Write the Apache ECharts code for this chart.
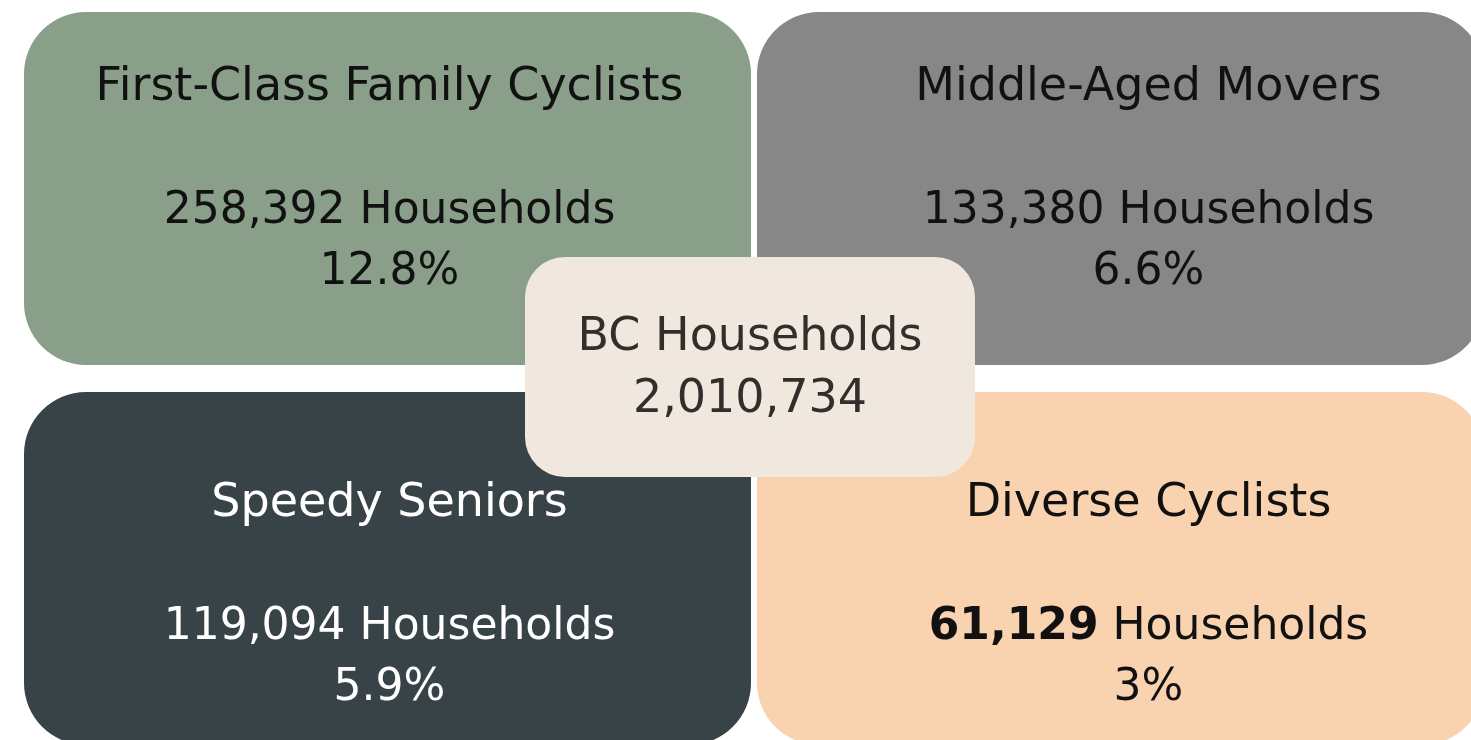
<!DOCTYPE html>
<html>
<head>
<meta charset="utf-8">
<title>BC Households segments</title>
<script src="https://cdn.jsdelivr.net/npm/echarts@6/dist/echarts.min.js"></script>
<style>
  html, body { margin: 0; padding: 0; background: #ffffff; }
  #main { width: 1471px; height: 740px; }
</style>
</head>
<body>
<div id="main"></div>
<script>
// segment tiles, read left-to-right, top-to-bottom
const segments = ["First-Class Family Cyclists", "Middle-Aged Movers", "Speedy Seniors", "Diverse Cyclists"];
const households = [258392, 133380, 119094, 61129];
const shares = [12.8, 6.6, 5.9, 3];
const tileCol = [0, 1, 0, 1];
const tileRow = [0, 0, 1, 1];

const totalLabel = "BC Households";
const totalHouseholds = 2010734;

const tileColors = ["#8a9f89", "#878787", "#374347", "#f9d2af"];
const tileText = ["#111111", "#111111", "#ffffff", "#111111"];
const FONT = "'DejaVu Sans', sans-serif";
const FS = 46;     // titles
const FS_NUM = 44; // number lines (DejaVu digits run wide)

// one grid cell is 733 x 380 px; the right column and bottom row run off the page
const CELL_W = 733, CELL_H = 380;
const GRID_LEFT = 24, GRID_TOP = 12;

const fmt = (n) => n.toLocaleString("en-US");

var chart = echarts.init(document.getElementById("main"));

const tileData = segments.map((name, i) => ({
  name: name,
  value: [tileCol[i], tileRow[i], households[i], shares[i]],
}));

function renderTile(params, api) {
  const i = params.dataIndex;
  const col = api.value(0);
  const row = api.value(1);
  const p = api.coord([col, row]);
  const cell = api.size([1, 1]);
  const w = cell[0] - 6;
  const h = cell[1] - 27;
  // text sits a little right in the right column, lower in the bottom row
  const cx = p[0] + w / 2 + (col === 1 ? 28 : 2);
  const top = p[1] + (row === 1 ? 112 : 76);
  const fill = tileText[i];
  const numWeight = i === 3 ? "bold" : "normal";
  return {
    type: "group",
    children: [
      {
        type: "rect",
        shape: { x: p[0], y: p[1], width: w, height: h, r: 62 },
        style: { fill: tileColors[i] },
      },
      {
        type: "text",
        style: {
          text: segments[i], x: cx, y: top, fill: fill,
          fontSize: FS, fontFamily: FONT, align: "center", verticalAlign: "middle",
        },
      },
      {
        type: "text",
        style: {
          text: "{n|" + fmt(api.value(2)) + "} Households", x: cx, y: top + 124, fill: fill,
          fontSize: FS_NUM, fontFamily: FONT, align: "center", verticalAlign: "middle",
          rich: { n: { fontSize: FS_NUM, fontFamily: FONT, fontWeight: numWeight, fill: fill } },
        },
      },
      {
        type: "text",
        style: {
          text: api.value(3) + "%", x: cx, y: top + 185, fill: fill,
          fontSize: FS_NUM, fontFamily: FONT, align: "center", verticalAlign: "middle",
        },
      },
    ],
  };
}

function renderTotal(params, api) {
  const p = api.coord([api.value(0), api.value(1)]);
  const cx = p[0] - 7;
  const cy = p[1] - 25;
  return {
    type: "group",
    children: [
      {
        type: "rect",
        shape: { x: cx - 225, y: cy - 110, width: 450, height: 220, r: 40 },
        style: { fill: "#f0e8df" },
      },
      {
        type: "text",
        style: {
          text: totalLabel, x: cx, y: cy - 29, fill: "#352d2b",
          fontSize: FS, fontFamily: FONT, align: "center", verticalAlign: "middle",
        },
      },
      {
        type: "text",
        style: {
          text: fmt(api.value(2)), x: cx, y: cy + 33, fill: "#352d2b",
          fontSize: FS, fontFamily: FONT, align: "center", verticalAlign: "middle",
        },
      },
    ],
  };
}

const W = 1471, H = 740;

chart.setOption({
  animation: false,
  grid: { left: GRID_LEFT, top: GRID_TOP, right: 0, bottom: 0 },
  xAxis: { type: "value", min: 0, max: (W - GRID_LEFT) / CELL_W, show: false },
  yAxis: { type: "value", min: 0, max: (H - GRID_TOP) / CELL_H, inverse: true, show: false },
  series: [
    {
      type: "custom",
      name: "segments",
      renderItem: renderTile,
      data: tileData,
      clip: false,
    },
    {
      type: "custom",
      name: "total",
      renderItem: renderTotal,
      data: [[1, 1, totalHouseholds]],
      z: 5,
      clip: false,
    },
  ],
});
</script>
</body>
</html>
